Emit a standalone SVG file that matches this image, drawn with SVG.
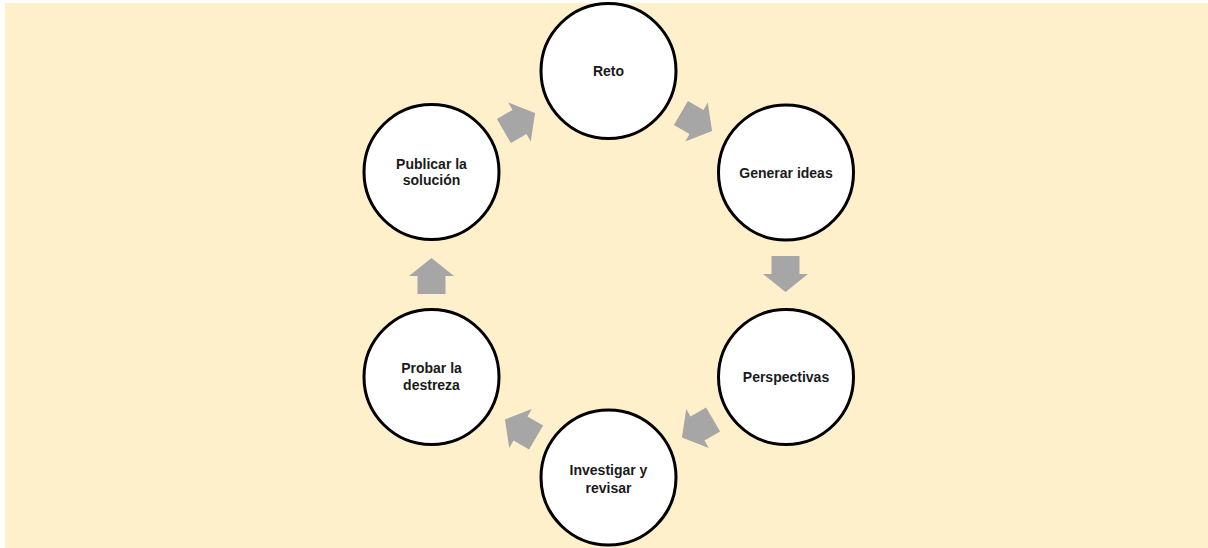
<svg xmlns="http://www.w3.org/2000/svg" xmlns:xlink="http://www.w3.org/1999/xlink" width="1208" height="548" viewBox="0 0 1208 548">
  <style>
    .bg { fill: #FFF0CC; }
    .node circle { fill: #FFFFFF; stroke: #000000; stroke-width: 3; }
    .node text { font-family: "Liberation Sans", Arial, sans-serif; font-weight: bold; font-size: 14px; fill: #1a1a1a; text-anchor: middle; }
    .arrow { fill: #A6A6A6; }
  </style>
  <defs>
    <polygon id="blockArrow" points="-18,-14 0,-14 0,-22.5 18,0 0,22.5 0,14 -18,14"/>
  </defs>
  <rect class="bg" x="5" y="3" width="1203" height="545"/>

  <g id="connectors">
    <use xlink:href="#blockArrow" class="arrow" transform="translate(696.5,122) rotate(30)"/>
    <use xlink:href="#blockArrow" class="arrow" transform="translate(785.5,274) rotate(90)"/>
    <use xlink:href="#blockArrow" class="arrow" transform="translate(697.5,428.5) rotate(150)"/>
    <use xlink:href="#blockArrow" class="arrow" transform="translate(520.5,428.5) rotate(210)"/>
    <use xlink:href="#blockArrow" class="arrow" transform="translate(431.5,276) rotate(-90)"/>
    <use xlink:href="#blockArrow" class="arrow" transform="translate(519.5,122) rotate(-30)"/>
  </g>

  <g id="node-reto" class="node">
    <circle cx="608.5" cy="71" r="67.5"/>
    <text x="608.5" y="76">Reto</text>
  </g>
  <g id="node-generar" class="node">
    <circle cx="786" cy="172.5" r="67.5"/>
    <text x="786" y="177.5">Generar ideas</text>
  </g>
  <g id="node-perspectivas" class="node">
    <circle cx="786" cy="377" r="67.5"/>
    <text x="786" y="382">Perspectivas</text>
  </g>
  <g id="node-investigar" class="node">
    <circle cx="608.5" cy="477.5" r="67.5"/>
    <text x="608.5" y="475">Investigar y</text>
    <text x="608.5" y="492.5">revisar</text>
  </g>
  <g id="node-probar" class="node">
    <circle cx="431.5" cy="377" r="67.5"/>
    <text x="431.5" y="372.5">Probar la</text>
    <text x="431.5" y="390">destreza</text>
  </g>
  <g id="node-publicar" class="node">
    <circle cx="431.5" cy="172" r="67.5"/>
    <text x="431.5" y="168.5">Publicar la</text>
    <text x="431.5" y="185">solución</text>
  </g>
</svg>
